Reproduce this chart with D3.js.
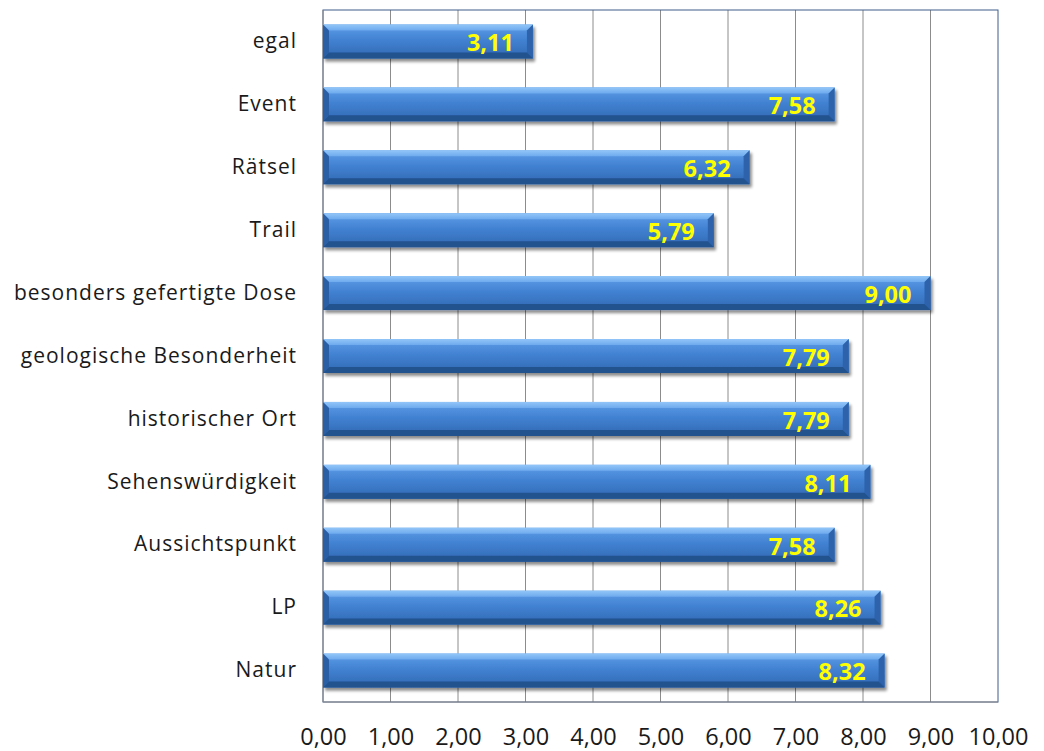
<!DOCTYPE html>
<html>
<head>
<meta charset="utf-8">
<script src="https://cdn.jsdelivr.net/npm/d3@7/dist/d3.min.js"></script>
<style>
  html, body { margin: 0; padding: 0; background: #ffffff; }
  svg { display: block; }
  text { font-family: "Open Sans", Lato, sans-serif; }
</style>
</head>
<body>
<svg id="chart" width="1044" height="751"></svg>
<script>
// Categories, top to bottom
const categories = [
  "egal", "Event", "Rätsel", "Trail", "besonders gefertigte Dose",
  "geologische Besonderheit", "historischer Ort", "Sehenswürdigkeit",
  "Aussichtspunkt", "LP", "Natur"
];
// Average rating per category
const values = [3.11, 7.58, 6.32, 5.79, 9.00, 7.79, 7.79, 8.11, 7.58, 8.26, 8.32];
// Axis ticks
const tickValues = [0, 1, 2, 3, 4, 5, 6, 7, 8, 9, 10];

const fmt = v => v.toFixed(2).replace(".", ",");

const svg = d3.select("#chart");
const plot = { left: 323, right: 998, top: 10, bottom: 702 };

const x = d3.scaleLinear().domain([0, 10]).range([plot.left, plot.right]);
const y = d3.scaleBand().domain(categories)
  .range([plot.top, plot.bottom]).paddingInner(0.46).paddingOuter(0.23);

const defs = svg.append("defs");
const grad = defs.append("linearGradient").attr("id", "barGrad")
  .attr("x1", 0).attr("y1", 0).attr("x2", 0).attr("y2", 1);
grad.append("stop").attr("offset", "0%").attr("stop-color", "#5f9ee8");
grad.append("stop").attr("offset", "45%").attr("stop-color", "#4282d2");
grad.append("stop").attr("offset", "100%").attr("stop-color", "#3068b2");

const topGrad = defs.append("linearGradient").attr("id", "topGrad")
  .attr("x1", 0).attr("y1", 0).attr("x2", 0).attr("y2", 1);
topGrad.append("stop").attr("offset", "0%").attr("stop-color", "#92c6f8");
topGrad.append("stop").attr("offset", "100%").attr("stop-color", "#6eaaee");

const shadow = defs.append("filter").attr("id", "shadow")
  .attr("x", "-5%").attr("y", "-30%").attr("width", "115%").attr("height", "180%");
shadow.append("feGaussianBlur").attr("in", "SourceAlpha").attr("stdDeviation", 1.6);
shadow.append("feOffset").attr("dx", 2).attr("dy", 2.5).attr("result", "off");
shadow.append("feComponentTransfer").append("feFuncA").attr("type", "linear").attr("slope", 0.45);
const merge = shadow.append("feMerge");
merge.append("feMergeNode");
merge.append("feMergeNode").attr("in", "SourceGraphic");

// Gridlines
svg.append("g").selectAll("line").data(tickValues.slice(1, -1)).join("line")
  .attr("x1", d => x(d)).attr("x2", d => x(d))
  .attr("y1", plot.top).attr("y2", plot.bottom)
  .attr("stroke", "#8c8c8c").attr("stroke-width", 1);

// Plot area frame
svg.append("rect")
  .attr("x", plot.left).attr("y", plot.top)
  .attr("width", plot.right - plot.left).attr("height", plot.bottom - plot.top)
  .attr("fill", "none").attr("stroke", "#3f5a8a").attr("stroke-width", 1);

// Value axis line (bottom) and category axis line (left)
svg.append("line").attr("x1", plot.left).attr("x2", plot.right)
  .attr("y1", plot.bottom).attr("y2", plot.bottom).attr("stroke", "#8c8c8c");
svg.append("line").attr("x1", plot.left).attr("x2", plot.left)
  .attr("y1", plot.top).attr("y2", plot.bottom).attr("stroke", "#8c8c8c");

// Beveled bars
const bev = 6;
const bars = svg.append("g").selectAll("g").data(categories).join("g")
  .attr("filter", "url(#shadow)");

bars.each(function(c, i) {
  const g = d3.select(this);
  const x0 = x(0), x1 = x(values[i]);
  const y0 = y(c), h = y.bandwidth(), y1 = y0 + h;
  g.append("rect").attr("x", x0).attr("y", y0).attr("width", x1 - x0).attr("height", h)
    .attr("fill", "url(#barGrad)");
  // top bevel
  g.append("path").attr("d", `M${x0},${y0}L${x1},${y0}L${x1 - bev},${y0 + bev}L${x0 + bev},${y0 + bev}Z`)
    .attr("fill", "url(#topGrad)");
  // left bevel
  g.append("path").attr("d", `M${x0},${y0}L${x0 + bev},${y0 + bev}L${x0 + bev},${y1 - bev}L${x0},${y1}Z`)
    .attr("fill", "#2c5fa6");
  // right bevel
  g.append("path").attr("d", `M${x1},${y0}L${x1},${y1}L${x1 - bev},${y1 - bev}L${x1 - bev},${y0 + bev}Z`)
    .attr("fill", "#2d63ab");
  // bottom bevel
  g.append("path").attr("d", `M${x0},${y1}L${x0 + bev},${y1 - bev}L${x1 - bev},${y1 - bev}L${x1},${y1}Z`)
    .attr("fill", "#23528f");
});

// Value labels
svg.append("g").selectAll("text").data(categories).join("text")
  .attr("x", (c, i) => x(values[i]) - 19)
  .attr("y", c => y(c) + y.bandwidth() / 2 + 9.8)
  .attr("text-anchor", "end")
  .attr("fill", "#ffff00")
  .attr("font-family", "Roboto, 'Open Sans', sans-serif")
  .attr("font-weight", "bold")
  .attr("font-size", 23.5)
  .text((c, i) => fmt(values[i]));

// Category axis
const yAxis = svg.append("g").attr("transform", `translate(${plot.left},0)`)
  .call(d3.axisLeft(y).tickSize(0).tickPadding(26));
yAxis.select(".domain").remove();
yAxis.selectAll("text").attr("font-size", 21).attr("fill", "#1a1a1a")
  .attr("letter-spacing", "1px")
  .attr("font-family", "'Open Sans', Lato, sans-serif");

// Value axis
const xAxis = svg.append("g").attr("transform", `translate(0,${plot.bottom})`)
  .call(d3.axisBottom(x).tickValues(tickValues).tickFormat(fmt).tickSize(0).tickPadding(26.3));
xAxis.select(".domain").remove();
xAxis.selectAll("text").attr("font-size", 23.5).attr("fill", "#1a1a1a")
  .attr("font-family", "Roboto, 'Open Sans', sans-serif");
</script>
</body>
</html>
